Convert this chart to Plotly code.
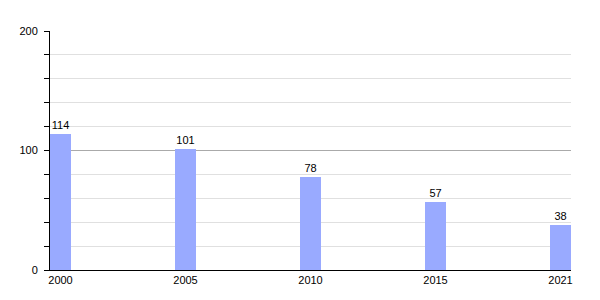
import plotly.graph_objects as go

years = ["2000", "2005", "2010", "2015", "2021"]
values = [114, 101, 78, 57, 38]

fig = go.Figure(go.Bar(
    x=years, y=values, width=0.168,
    marker=dict(color="#99aaff", line=dict(width=0)),
    text=[str(v) for v in values], textposition="outside",
    textfont=dict(color="black", size=11, family="Liberation Sans"),
    cliponaxis=False,
))
fig.update_layout(
    width=600, height=300,
    margin=dict(l=50, r=29, t=31, b=30),
    paper_bgcolor="white", plot_bgcolor="white",
    font=dict(family="Liberation Sans", size=11, color="black"),
    showlegend=False,
    bargap=0,
)
fig.update_xaxes(
    type="category", range=[-0.084, 4.084],
    showline=True, linecolor="black", linewidth=1,
    ticks="", showgrid=False, tickfont=dict(size=11),
)
fig.update_yaxes(
    range=[0, 200], dtick=100, tick0=0,
    showline=True, linecolor="black", linewidth=1,
    ticks="outside", ticklen=5, tickcolor="black",
    ticklabelstandoff=4,
    showgrid=True, gridcolor="#aaaaaa", gridwidth=1,
    zeroline=False,
    minor=dict(dtick=20, ticks="outside", ticklen=5, tickcolor="black",
               showgrid=True, gridcolor="#e0e0e0", gridwidth=1),
    tickfont=dict(size=11),
)
fig.write_html("out.html")
